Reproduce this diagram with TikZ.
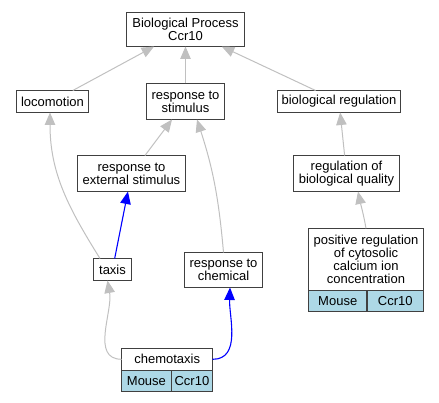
\documentclass[tikz,border=0pt]{standalone}
\usepackage{fontspec}
\setmainfont{Liberation Sans}
\usetikzlibrary{arrows.meta}
\definecolor{cellblue}{HTML}{ADD8E6}
\definecolor{edgegray}{HTML}{C0C0C0}
\definecolor{boxline}{HTML}{404040}

\tikzset{
    term/.style={shape=rectangle,draw=boxline,line width=1.3pt,fill=white,align=center,
        inner sep=0pt,outer sep=0pt,font=\fontsize{13}{13}\selectfont},
    cell/.style={term,fill=cellblue,minimum height=21.3pt,anchor=north west},
    isa/.style={draw=edgegray,line width=1pt,-{Triangle[length=12.5pt,width=10.5pt]}},
    part/.style={draw=blue,line width=1.1pt,-{Triangle[length=12.5pt,width=10.5pt]}},
}

\begin{document}
\begin{tikzpicture}[x=1pt,y=-1pt]
    \useasboundingbox (0,0) rectangle (439,403);

    \node[term,minimum width=118pt,minimum height=34pt] (bp) at (185.5,29.5) {Biological Process\\Ccr10};
    \node[term,minimum width=72pt,minimum height=22pt] (loco) at (52.5,101.5) {locomotion};
    \node[term,minimum width=78pt,minimum height=36pt] (rts) at (185.5,101.5) {response to\\stimulus};
    \node[term,minimum width=123pt,minimum height=22pt] (bioreg) at (339,101.5) {biological regulation};
    \node[term,minimum width=108pt,minimum height=36pt] (rtes) at (131.5,173.5) {response to\\external stimulus};
    \node[term,minimum width=106pt,minimum height=36pt] (rbq) at (346.5,173.5) {regulation of\\biological quality};
    \node[term,minimum width=38pt,minimum height=22pt] (taxis) at (112.5,269.5) {taxis};
    \node[term,minimum width=78pt,minimum height=35pt] (rtc) at (223.5,270) {response to\\chemical};

    % records with organism / gene cells
    \node[term,minimum width=115pt,minimum height=62pt] (pos) at (366,259.3)
        {positive regulation\\of cytosolic\\calcium ion\\concentration};
    \node[cell,minimum width=58.5pt] (posM) at (pos.south west) {Mouse};
    \node[cell,minimum width=56.5pt] (posC) at (posM.north east) {Ccr10};

    \node[term,minimum width=91pt,minimum height=22pt] (chemo) at (167.2,359.3) {chemotaxis};
    \node[cell,minimum width=49.5pt] (chemoM) at (chemo.south west) {Mouse};
    \node[cell,minimum width=41.5pt] (chemoC) at (chemoM.north east) {Ccr10};

    \draw[isa] (loco) -- (bp);
    \draw[isa] (rts) -- (bp);
    \draw[isa] (bioreg) -- (bp);
    \draw[isa] (rtes) -- (rts);
    \draw[isa] (rtc.north) to[out=95,in=-72] ([xshift=11.5pt]rts.south);
    \draw[isa] ([xshift=-12.5pt]taxis.north) to[out=122,in=-90] ([xshift=-2.5pt]loco.south);
    \draw[part] (taxis) -- (rtes);
    \draw[isa] (chemo.west) to[out=180,in=-80] ([xshift=-5pt]taxis.south);
    \draw[part] (chemo.east) to[out=0,in=-92] ([xshift=6.5pt]rtc.south);
    \draw[isa] (rbq) -- (bioreg);
    \draw[isa] (pos.north) to[out=100,in=-78] ([xshift=11.5pt]rbq.south);
\end{tikzpicture}
\end{document}
